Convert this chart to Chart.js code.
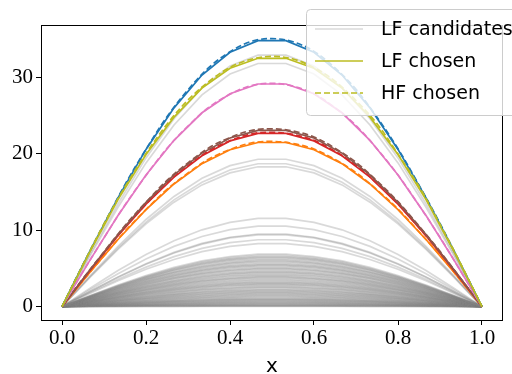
<!DOCTYPE html>
<html>
<head>
<meta charset="utf-8">
<script src="https://cdn.jsdelivr.net/npm/chart.js@4.4.1/dist/chart.umd.min.js"></script>
<style>
  html, body { margin: 0; padding: 0; background: #fff; }
  #wrap { width: 512px; height: 374px; position: relative; }
</style>
</head>
<body>
<div id="wrap"><canvas id="c" width="512" height="374"></canvas></div>
<script>
// ---- DATA ----
const xLF = [0, 0.0667, 0.1333, 0.2, 0.2667, 0.3333, 0.4, 0.4667, 0.5333, 0.6, 0.6667, 0.7333, 0.8, 0.8667, 0.9333, 1];
const xHF = [0, 0.05, 0.1, 0.15, 0.2, 0.25, 0.3, 0.35, 0.4, 0.45, 0.5, 0.55, 0.6, 0.65, 0.7, 0.75, 0.8, 0.85, 0.9, 0.95, 1];
const xTicks = [0, 0.2, 0.4, 0.6, 0.8, 1.0];
const yTicks = [0, 10, 20, 30];

// chosen LF curves (solid)
const lfBlue   = [0, 7.28, 14.23, 20.57, 26.01, 30.31, 33.29, 34.81, 34.81, 33.29, 30.31, 26.01, 20.57, 14.23, 7.28, 0];
const lfOlive  = [0, 7.20, 14.00, 19.90, 24.80, 28.60, 31.20, 32.50, 32.50, 31.20, 28.60, 24.80, 19.90, 14.00, 7.20, 0];
const lfPink   = [0, 6.09, 11.92, 17.22, 21.77, 25.37, 27.87, 29.14, 29.14, 27.87, 25.37, 21.77, 17.22, 11.92, 6.09, 0];
const lfBrown  = [0, 4.82, 9.44, 13.64, 17.24, 20.09, 22.07, 23.07, 23.07, 22.07, 20.09, 17.24, 13.64, 9.44, 4.82, 0];
const lfRed    = [0, 4.74, 9.27, 13.40, 16.94, 19.74, 21.69, 22.67, 22.67, 21.69, 19.74, 16.94, 13.40, 9.27, 4.74, 0];
const lfOrange = [0, 4.49, 8.78, 12.70, 16.05, 18.71, 20.54, 21.48, 21.48, 20.54, 18.71, 16.05, 12.70, 8.78, 4.49, 0];

// chosen HF curves (dashed)
const hfBlue   = [0, 5.52, 10.81, 15.97, 20.60, 24.86, 28.37, 31.30, 33.35, 34.70, 35.08, 34.66, 33.41, 31.24, 28.43, 24.79, 20.66, 15.90, 10.88, 5.46, 0];
const hfOlive  = [0, 5.48, 10.83, 15.68, 20.03, 23.87, 27.04, 29.47, 31.33, 32.37, 32.75, 32.41, 31.28, 29.52, 26.98, 23.93, 19.97, 15.74, 10.78, 5.53, 0];
const hfPink   = [0, 4.60, 9.01, 13.31, 17.16, 20.71, 23.63, 26.09, 27.79, 28.92, 29.22, 28.86, 27.85, 26.03, 23.69, 20.65, 17.22, 13.25, 9.07, 4.55, 0];
const hfBrown  = [0, 3.67, 7.17, 10.61, 13.67, 16.51, 18.82, 20.79, 22.13, 23.04, 23.27, 22.98, 22.19, 20.73, 18.88, 16.45, 13.73, 10.55, 7.23, 3.62, 0];
const hfRed    = [0, 3.60, 7.03, 10.40, 13.40, 16.19, 18.46, 20.39, 21.70, 22.60, 22.82, 22.54, 21.76, 20.33, 18.52, 16.13, 13.46, 10.34, 7.09, 3.55, 0];
const hfOrange = [0, 3.42, 6.66, 9.86, 12.70, 15.34, 17.48, 19.32, 20.56, 21.41, 21.62, 21.35, 20.62, 19.26, 17.54, 15.28, 12.76, 9.80, 6.72, 3.37, 0];

// LF candidate curves (gray)
const lfCandidates = [
  [0, 6.88, 13.46, 19.46, 24.60, 28.66, 31.48, 32.92, 32.92, 31.48, 28.66, 24.60, 19.46, 13.46, 6.88, 0],
  [0, 6.65, 13.01, 18.81, 23.78, 27.71, 30.44, 31.82, 31.82, 30.44, 27.71, 23.78, 18.81, 13.01, 6.65, 0],
  [0, 4.03, 7.89, 11.40, 14.42, 16.80, 18.45, 19.29, 19.29, 18.45, 16.80, 14.42, 11.40, 7.89, 4.03, 0],
  [0, 3.91, 7.65, 11.05, 13.97, 16.28, 17.88, 18.70, 18.70, 17.88, 16.28, 13.97, 11.05, 7.65, 3.91, 0],
  [0, 3.83, 7.48, 10.82, 13.67, 15.93, 17.50, 18.30, 18.30, 17.50, 15.93, 13.67, 10.82, 7.48, 3.83, 0],
  [0, 2.41, 4.72, 6.82, 8.62, 10.05, 11.03, 11.54, 11.54, 11.03, 10.05, 8.62, 6.82, 4.72, 2.41, 0],
  [0, 2.20, 4.31, 6.23, 7.88, 9.18, 10.08, 10.54, 10.54, 10.08, 9.18, 7.88, 6.23, 4.31, 2.20, 0],
  [0, 1.99, 3.88, 5.61, 7.10, 8.27, 9.08, 9.50, 9.50, 9.08, 8.27, 7.10, 5.61, 3.88, 1.99, 0],
  [0, 1.96, 3.84, 5.55, 7.02, 8.18, 8.99, 9.40, 9.40, 8.99, 8.18, 7.02, 5.55, 3.84, 1.96, 0],
  [0, 1.83, 3.58, 5.17, 6.54, 7.62, 8.37, 8.75, 8.75, 8.37, 7.62, 6.54, 5.17, 3.58, 1.83, 0],
  [0, 1.73, 3.38, 4.88, 6.17, 7.19, 7.89, 8.25, 8.25, 7.89, 7.19, 6.17, 4.88, 3.38, 1.73, 0],
  [0, 1.43, 2.81, 4.06, 5.13, 5.98, 6.56, 6.86, 6.86, 6.56, 5.98, 5.13, 4.06, 2.81, 1.43, 0],
  [0, 1.40, 2.75, 3.97, 5.02, 5.85, 6.42, 6.71, 6.71, 6.42, 5.85, 5.02, 3.97, 2.75, 1.40, 0],
  [0, 1.37, 2.68, 3.88, 4.90, 5.72, 6.28, 6.56, 6.56, 6.28, 5.72, 4.90, 3.88, 2.68, 1.37, 0],
  [0, 1.35, 2.64, 3.82, 4.83, 5.63, 6.18, 6.46, 6.46, 6.18, 5.63, 4.83, 3.82, 2.64, 1.35, 0],
  [0, 1.33, 2.60, 3.76, 4.76, 5.54, 6.09, 6.36, 6.36, 6.09, 5.54, 4.76, 3.76, 2.60, 1.33, 0],
  [0, 1.30, 2.54, 3.67, 4.64, 5.41, 5.94, 6.22, 6.22, 5.94, 5.41, 4.64, 3.67, 2.54, 1.30, 0],
  [0, 1.27, 2.48, 3.59, 4.53, 5.28, 5.80, 6.07, 6.07, 5.80, 5.28, 4.53, 3.59, 2.48, 1.27, 0],
  [0, 1.25, 2.44, 3.53, 4.46, 5.20, 5.71, 5.97, 5.97, 5.71, 5.20, 4.46, 3.53, 2.44, 1.25, 0],
  [0, 1.23, 2.40, 3.47, 4.38, 5.11, 5.61, 5.87, 5.87, 5.61, 5.11, 4.38, 3.47, 2.40, 1.23, 0],
  [0, 1.20, 2.34, 3.38, 4.27, 4.98, 5.47, 5.72, 5.72, 5.47, 4.98, 4.27, 3.38, 2.34, 1.20, 0],
  [0, 1.16, 2.28, 3.29, 4.16, 4.85, 5.33, 5.57, 5.57, 5.33, 4.85, 4.16, 3.29, 2.28, 1.16, 0],
  [0, 1.14, 2.24, 3.23, 4.09, 4.76, 5.23, 5.47, 5.47, 5.23, 4.76, 4.09, 3.23, 2.24, 1.14, 0],
  [0, 1.12, 2.20, 3.17, 4.01, 4.68, 5.14, 5.37, 5.37, 5.14, 4.68, 4.01, 3.17, 2.20, 1.12, 0],
  [0, 1.09, 2.14, 3.09, 3.90, 4.55, 4.99, 5.22, 5.22, 4.99, 4.55, 3.90, 3.09, 2.14, 1.09, 0],
  [0, 1.06, 2.07, 3.00, 3.79, 4.42, 4.85, 5.07, 5.07, 4.85, 4.42, 3.79, 3.00, 2.07, 1.06, 0],
  [0, 1.04, 2.03, 2.94, 3.72, 4.33, 4.76, 4.97, 4.97, 4.76, 4.33, 3.72, 2.94, 2.03, 1.04, 0],
  [0, 1.02, 1.99, 2.88, 3.64, 4.24, 4.66, 4.87, 4.87, 4.66, 4.24, 3.64, 2.88, 1.99, 1.02, 0],
  [0, 0.99, 1.93, 2.79, 3.53, 4.11, 4.52, 4.72, 4.72, 4.52, 4.11, 3.53, 2.79, 1.93, 0.99, 0],
  [0, 0.96, 1.87, 2.70, 3.42, 3.98, 4.38, 4.57, 4.57, 4.38, 3.98, 3.42, 2.70, 1.87, 0.96, 0],
  [0, 0.94, 1.83, 2.65, 3.34, 3.90, 4.28, 4.48, 4.48, 4.28, 3.90, 3.34, 2.65, 1.83, 0.94, 0],
  [0, 0.91, 1.79, 2.59, 3.27, 3.81, 4.18, 4.38, 4.38, 4.18, 3.81, 3.27, 2.59, 1.79, 0.91, 0],
  [0, 0.88, 1.73, 2.50, 3.16, 3.68, 4.04, 4.23, 4.23, 4.04, 3.68, 3.16, 2.50, 1.73, 0.88, 0],
  [0, 0.86, 1.69, 2.44, 3.08, 3.59, 3.95, 4.13, 4.13, 3.95, 3.59, 3.08, 2.44, 1.69, 0.86, 0],
  [0, 0.83, 1.63, 2.35, 2.97, 3.46, 3.80, 3.98, 3.98, 3.80, 3.46, 2.97, 2.35, 1.63, 0.83, 0],
  [0, 0.81, 1.59, 2.29, 2.90, 3.38, 3.71, 3.88, 3.88, 3.71, 3.38, 2.90, 2.29, 1.59, 0.81, 0],
  [0, 0.79, 1.55, 2.23, 2.82, 3.29, 3.61, 3.78, 3.78, 3.61, 3.29, 2.82, 2.23, 1.55, 0.79, 0],
  [0, 0.77, 1.50, 2.17, 2.75, 3.20, 3.52, 3.68, 3.68, 3.52, 3.20, 2.75, 2.17, 1.50, 0.77, 0],
  [0, 0.74, 1.44, 2.09, 2.64, 3.07, 3.38, 3.53, 3.53, 3.38, 3.07, 2.64, 2.09, 1.44, 0.74, 0],
  [0, 0.72, 1.40, 2.03, 2.56, 2.99, 3.28, 3.43, 3.43, 3.28, 2.99, 2.56, 2.03, 1.40, 0.72, 0],
  [0, 0.69, 1.34, 1.94, 2.45, 2.86, 3.14, 3.28, 3.28, 3.14, 2.86, 2.45, 1.94, 1.34, 0.69, 0],
  [0, 0.67, 1.30, 1.88, 2.38, 2.77, 3.04, 3.18, 3.18, 3.04, 2.77, 2.38, 1.88, 1.30, 0.67, 0],
  [0, 0.64, 1.26, 1.82, 2.30, 2.68, 2.95, 3.08, 3.08, 2.95, 2.68, 2.30, 1.82, 1.26, 0.64, 0],
  [0, 0.62, 1.22, 1.76, 2.23, 2.60, 2.85, 2.98, 2.98, 2.85, 2.60, 2.23, 1.76, 1.22, 0.62, 0],
  [0, 0.60, 1.18, 1.70, 2.15, 2.51, 2.76, 2.88, 2.88, 2.76, 2.51, 2.15, 1.70, 1.18, 0.60, 0],
  [0, 0.58, 1.14, 1.65, 2.08, 2.42, 2.66, 2.78, 2.78, 2.66, 2.42, 2.08, 1.65, 1.14, 0.58, 0],
  [0, 0.55, 1.08, 1.56, 1.97, 2.29, 2.52, 2.64, 2.64, 2.52, 2.29, 1.97, 1.56, 1.08, 0.55, 0],
  [0, 0.53, 1.04, 1.50, 1.89, 2.21, 2.43, 2.54, 2.54, 2.43, 2.21, 1.89, 1.50, 1.04, 0.53, 0],
  [0, 0.51, 1.00, 1.44, 1.82, 2.12, 2.33, 2.44, 2.44, 2.33, 2.12, 1.82, 1.44, 1.00, 0.51, 0],
  [0, 0.48, 0.94, 1.35, 1.71, 1.99, 2.19, 2.29, 2.29, 2.19, 1.99, 1.71, 1.35, 0.94, 0.48, 0],
  [0, 0.46, 0.89, 1.29, 1.63, 1.91, 2.09, 2.19, 2.19, 2.09, 1.91, 1.63, 1.29, 0.89, 0.46, 0],
  [0, 0.44, 0.85, 1.23, 1.56, 1.82, 2.00, 2.09, 2.09, 2.00, 1.82, 1.56, 1.23, 0.85, 0.44, 0],
  [0, 0.42, 0.81, 1.18, 1.49, 1.73, 1.90, 1.99, 1.99, 1.90, 1.73, 1.49, 1.18, 0.81, 0.42, 0],
  [0, 0.40, 0.77, 1.12, 1.41, 1.65, 1.81, 1.89, 1.89, 1.81, 1.65, 1.41, 1.12, 0.77, 0.40, 0],
  [0, 0.37, 0.73, 1.06, 1.34, 1.56, 1.71, 1.79, 1.79, 1.71, 1.56, 1.34, 1.06, 0.73, 0.37, 0],
  [0, 0.35, 0.69, 1.00, 1.26, 1.47, 1.62, 1.69, 1.69, 1.62, 1.47, 1.26, 1.00, 0.69, 0.35, 0],
  [0, 0.33, 0.65, 0.94, 1.19, 1.39, 1.52, 1.59, 1.59, 1.52, 1.39, 1.19, 0.94, 0.65, 0.33, 0],
  [0, 0.31, 0.61, 0.88, 1.11, 1.30, 1.43, 1.49, 1.49, 1.43, 1.30, 1.11, 0.88, 0.61, 0.31, 0],
  [0, 0.29, 0.57, 0.82, 1.04, 1.21, 1.33, 1.39, 1.39, 1.33, 1.21, 1.04, 0.82, 0.57, 0.29, 0],
  [0, 0.27, 0.53, 0.76, 0.97, 1.13, 1.24, 1.29, 1.29, 1.24, 1.13, 0.97, 0.76, 0.53, 0.27, 0],
  [0, 0.25, 0.49, 0.71, 0.89, 1.04, 1.14, 1.19, 1.19, 1.14, 1.04, 0.89, 0.71, 0.49, 0.25, 0],
  [0, 0.23, 0.45, 0.65, 0.82, 0.95, 1.05, 1.09, 1.09, 1.05, 0.95, 0.82, 0.65, 0.45, 0.23, 0],
  [0, 0.21, 0.41, 0.59, 0.74, 0.87, 0.95, 0.99, 0.99, 0.95, 0.87, 0.74, 0.59, 0.41, 0.21, 0],
  [0, 0.20, 0.39, 0.56, 0.71, 0.82, 0.90, 0.94, 0.94, 0.90, 0.82, 0.71, 0.56, 0.39, 0.20, 0],
  [0, 0.18, 0.36, 0.52, 0.65, 0.76, 0.84, 0.88, 0.88, 0.84, 0.76, 0.65, 0.52, 0.36, 0.18, 0],
  [0, 0.17, 0.33, 0.47, 0.59, 0.69, 0.76, 0.80, 0.80, 0.76, 0.69, 0.59, 0.47, 0.33, 0.17, 0],
  [0, 0.15, 0.29, 0.42, 0.54, 0.62, 0.68, 0.72, 0.72, 0.68, 0.62, 0.54, 0.42, 0.29, 0.15, 0],
  [0, 0.14, 0.26, 0.38, 0.48, 0.56, 0.62, 0.65, 0.65, 0.62, 0.56, 0.48, 0.38, 0.26, 0.14, 0],
  [0, 0.12, 0.24, 0.34, 0.43, 0.50, 0.55, 0.58, 0.58, 0.55, 0.50, 0.43, 0.34, 0.24, 0.12, 0],
  [0, 0.10, 0.20, 0.29, 0.37, 0.43, 0.48, 0.50, 0.50, 0.48, 0.43, 0.37, 0.29, 0.20, 0.10, 0],
  [0, 0.09, 0.18, 0.26, 0.33, 0.38, 0.42, 0.44, 0.44, 0.42, 0.38, 0.33, 0.26, 0.18, 0.09, 0],
  [0, 0.08, 0.15, 0.22, 0.28, 0.33, 0.36, 0.38, 0.38, 0.36, 0.33, 0.28, 0.22, 0.15, 0.08, 0],
  [0, 0.07, 0.13, 0.19, 0.24, 0.28, 0.30, 0.32, 0.32, 0.30, 0.28, 0.24, 0.19, 0.13, 0.07, 0],
  [0, 0.05, 0.10, 0.15, 0.19, 0.22, 0.24, 0.25, 0.25, 0.24, 0.22, 0.19, 0.15, 0.10, 0.05, 0],
  [0, 0.04, 0.08, 0.12, 0.15, 0.17, 0.19, 0.20, 0.20, 0.19, 0.17, 0.15, 0.12, 0.08, 0.04, 0],
  [0, 0.03, 0.06, 0.09, 0.11, 0.13, 0.14, 0.15, 0.15, 0.14, 0.13, 0.11, 0.09, 0.06, 0.03, 0],
  [0, 0.02, 0.04, 0.06, 0.07, 0.09, 0.10, 0.10, 0.10, 0.10, 0.09, 0.07, 0.06, 0.04, 0.02, 0],
  [0, 0.01, 0.02, 0.04, 0.04, 0.05, 0.06, 0.06, 0.06, 0.06, 0.05, 0.04, 0.04, 0.02, 0.01, 0],
  [0, 0.01, 0.01, 0.02, 0.02, 0.03, 0.03, 0.03, 0.03, 0.03, 0.03, 0.02, 0.02, 0.01, 0.01, 0]
];

const legendLabels = ['LF candidates', 'LF chosen', 'HF chosen'];

// ---- COLORS ----
const C = {
  blue: '#1f77b4', olive: '#bcbd22', pink: '#e377c2',
  brown: '#8c564b', red: '#d62728', orange: '#ff7f0e',
  gray: 'rgba(128,128,128,0.3)'
};

function pts(xs, ys) { return ys.map((y, i) => ({ x: xs[i], y: y })); }

const datasets = [];
const chosen = [
  [hfOlive, lfOlive, C.olive],
  [hfBlue, lfBlue, C.blue],
  [hfPink, lfPink, C.pink],
  [hfBrown, lfBrown, C.brown],
  [hfRed, lfRed, C.red],
  [hfOrange, lfOrange, C.orange]
];
chosen.forEach(([hf, lf, col]) => {
  datasets.push({ data: pts(xHF, hf), borderColor: col, borderWidth: 1.7, borderDash: [6, 3], tension: 0.35, pointRadius: 0 });
  datasets.push({ data: pts(xLF, lf), borderColor: col, borderWidth: 1.7, tension: 0, pointRadius: 0 });
});
lfCandidates.forEach(c => {
  datasets.push({ data: pts(xLF, c), borderColor: C.gray, borderWidth: 1.7, tension: 0, pointRadius: 0 });
});

const frameAndLegend = {
  id: 'frameAndLegend',
  afterDatasetsDraw(chart) {
    const { ctx, chartArea: a } = chart;
    ctx.save();
    ctx.strokeStyle = '#000';
    ctx.lineWidth = 1;
    ctx.strokeRect(Math.round(a.left) + 0.5, Math.round(a.top) + 0.5,
                   Math.round(a.right - a.left) - 1, Math.round(a.bottom - a.top));
    ctx.restore();
  },
  afterDraw(chart) {
    const ctx = chart.ctx;
    ctx.save();
    const bx = 306.5, by = 9.5, bw = 220, bh = 106, r = 4;
    ctx.beginPath();
    ctx.moveTo(bx + r, by);
    ctx.lineTo(bx + bw - r, by);
    ctx.arcTo(bx + bw, by, bx + bw, by + r, r);
    ctx.lineTo(bx + bw, by + bh - r);
    ctx.arcTo(bx + bw, by + bh, bx + bw - r, by + bh, r);
    ctx.lineTo(bx + r, by + bh);
    ctx.arcTo(bx, by + bh, bx, by + bh - r, r);
    ctx.lineTo(bx, by + r);
    ctx.arcTo(bx, by, bx + r, by, r);
    ctx.closePath();
    ctx.fillStyle = 'rgba(255,255,255,0.8)';
    ctx.fill();
    ctx.strokeStyle = '#cccccc';
    ctx.lineWidth = 1;
    ctx.stroke();

    const rows = [29, 61, 93];
    const styles = [
      { color: C.gray, dash: [] },
      { color: C.olive, dash: [] },
      { color: C.olive, dash: [6, 3] }
    ];
    rows.forEach((y, i) => {
      ctx.beginPath();
      ctx.setLineDash(styles[i].dash);
      ctx.strokeStyle = styles[i].color;
      ctx.lineWidth = 1.7;
      ctx.moveTo(315, y);
      ctx.lineTo(363, y);
      ctx.stroke();
      ctx.setLineDash([]);
      ctx.fillStyle = '#000';
      ctx.font = '19px "DejaVu Sans"';
      ctx.textBaseline = 'middle';
      ctx.textAlign = 'left';
      ctx.fillText(legendLabels[i], 381, y + 1);
    });
    ctx.restore();
  }
};

new Chart(document.getElementById('c'), {
  type: 'line',
  data: { datasets },
  options: {
    responsive: false,
    animation: false,
    events: [],
    layout: { padding: { top: 25, right: 9, left: 0, bottom: 0 } },
    plugins: { legend: { display: false }, tooltip: { enabled: false } },
    scales: {
      x: {
        type: 'linear',
        min: -0.05, max: 1.05,
        afterFit(s) { s.height = 54; },
        afterBuildTicks(s) { s.ticks = xTicks.map(v => ({ value: v })); },
        ticks: {
          callback: v => v.toFixed(1),
          color: '#000',
          font: { family: '"Liberation Serif"', size: 21 },
          padding: 1,
          maxRotation: 0
        },
        grid: { drawOnChartArea: false, drawTicks: true, tickLength: 5, color: '#000', lineWidth: 1 },
        border: { display: false },
        title: { display: true, text: 'x', color: '#000', font: { family: '"DejaVu Sans"', size: 20, lineHeight: 0.7 }, padding: { top: 0, bottom: 0 } }
      },
      y: {
        type: 'linear',
        min: -1.755, max: 36.86,
        afterFit(s) { s.width = 41; },
        afterBuildTicks(s) { s.ticks = yTicks.map(v => ({ value: v })); },
        ticks: {
          color: '#000',
          font: { family: '"Liberation Serif"', size: 21 },
          padding: 3
        },
        grid: { drawOnChartArea: false, drawTicks: true, tickLength: 5, color: '#000', lineWidth: 1 },
        border: { display: false }
      }
    }
  },
  plugins: [frameAndLegend]
});
</script>
</body>
</html>
